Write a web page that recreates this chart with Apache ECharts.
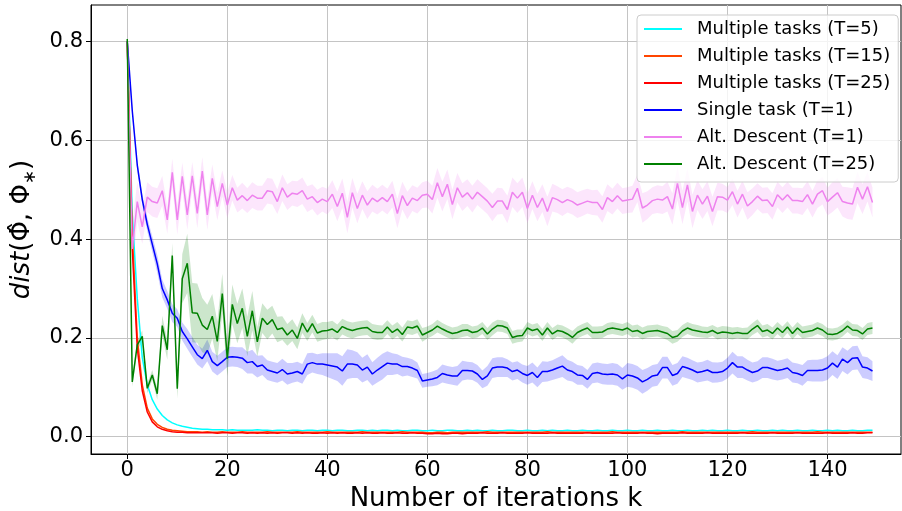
<!DOCTYPE html>
<html>
<head>
<meta charset="utf-8">
<title>dist vs iterations</title>
<script src="https://cdn.jsdelivr.net/npm/echarts@6/dist/echarts.min.js"></script>
<style>
  html, body { margin: 0; padding: 0; background: #fff; }
  #chart { width: 902px; height: 511px; }
</style>
</head>
<body>
<div id="chart"></div>
<script>
// 刻度
const xTicks = [0, 20, 40, 60, 80, 100, 120, 140];
const yTicks = [0, 0.2, 0.4, 0.6, 0.8];

// 迭代次数 k = 0..149
const iterations = Array.from({ length: 150 }, (_, i) => i);

// Multiple tasks (T=5)
const multiT5 = [
  0.80, 0.45, 0.28, 0.16, 0.105, 0.075, 0.056, 0.043, 0.034, 0.028,
  0.024, 0.021, 0.019, 0.017, 0.016, 0.015, 0.015, 0.014, 0.014, 0.014,
  0.013, 0.014, 0.013, 0.013, 0.013, 0.013, 0.014, 0.013, 0.013, 0.012,
  0.013, 0.013, 0.012, 0.013, 0.013, 0.012, 0.013, 0.013, 0.012, 0.013,
  0.013, 0.012, 0.013, 0.013, 0.012, 0.012, 0.013, 0.013, 0.012, 0.013,
  0.012, 0.013, 0.013, 0.012, 0.013, 0.012, 0.012, 0.013, 0.013, 0.012,
  0.012, 0.013, 0.012, 0.012, 0.013, 0.013, 0.012, 0.012, 0.013, 0.012,
  0.013, 0.012, 0.012, 0.013, 0.012, 0.012, 0.013, 0.013, 0.012, 0.012,
  0.013, 0.012, 0.012, 0.013, 0.012, 0.013, 0.012, 0.012, 0.013, 0.012,
  0.012, 0.013, 0.012, 0.012, 0.013, 0.012, 0.012, 0.013, 0.012, 0.012,
  0.013, 0.012, 0.012, 0.013, 0.012, 0.012, 0.013, 0.012, 0.012, 0.013,
  0.012, 0.012, 0.013, 0.012, 0.012, 0.013, 0.012, 0.013, 0.012, 0.012,
  0.013, 0.012, 0.012, 0.013, 0.012, 0.012, 0.013, 0.012, 0.012, 0.013,
  0.012, 0.013, 0.012, 0.012, 0.013, 0.012, 0.012, 0.013, 0.012, 0.012,
  0.013, 0.012, 0.013, 0.012, 0.012, 0.013, 0.012, 0.012, 0.013, 0.013
];

// Multiple tasks (T=15)
const multiT15 = [
  0.80, 0.41, 0.20, 0.105, 0.058, 0.036, 0.025, 0.019, 0.015, 0.013,
  0.012, 0.011, 0.010, 0.010, 0.010, 0.009, 0.010, 0.009, 0.009, 0.010,
  0.009, 0.009, 0.009, 0.010, 0.009, 0.009, 0.009, 0.009, 0.010, 0.009,
  0.009, 0.009, 0.009, 0.009, 0.010, 0.009, 0.009, 0.009, 0.009, 0.009,
  0.010, 0.009, 0.009, 0.009, 0.009, 0.009, 0.009, 0.010, 0.009, 0.009,
  0.009, 0.009, 0.009, 0.009, 0.009, 0.010, 0.009, 0.009, 0.009, 0.009,
  0.008, 0.008, 0.009, 0.009, 0.008, 0.009, 0.009, 0.009, 0.009, 0.009,
  0.009, 0.009, 0.010, 0.009, 0.009, 0.009, 0.009, 0.009, 0.009, 0.009,
  0.009, 0.009, 0.009, 0.009, 0.010, 0.009, 0.009, 0.009, 0.009, 0.009,
  0.009, 0.009, 0.009, 0.009, 0.009, 0.009, 0.009, 0.010, 0.009, 0.009,
  0.009, 0.009, 0.009, 0.009, 0.009, 0.009, 0.009, 0.009, 0.009, 0.009,
  0.009, 0.010, 0.009, 0.009, 0.009, 0.009, 0.009, 0.009, 0.009, 0.009,
  0.009, 0.009, 0.009, 0.009, 0.009, 0.010, 0.009, 0.009, 0.009, 0.009,
  0.009, 0.009, 0.009, 0.009, 0.009, 0.009, 0.009, 0.009, 0.010, 0.009,
  0.009, 0.009, 0.009, 0.009, 0.009, 0.009, 0.009, 0.009, 0.009, 0.009
];

// Multiple tasks (T=25)
const multiT25 = [
  0.80, 0.38, 0.18, 0.093, 0.050, 0.030, 0.020, 0.015, 0.012, 0.010,
  0.009, 0.009, 0.008, 0.008, 0.008, 0.008, 0.008, 0.008, 0.007, 0.008,
  0.008, 0.007, 0.008, 0.008, 0.007, 0.008, 0.007, 0.008, 0.007, 0.008,
  0.007, 0.008, 0.008, 0.007, 0.008, 0.007, 0.008, 0.007, 0.007, 0.008,
  0.007, 0.008, 0.007, 0.008, 0.007, 0.007, 0.008, 0.007, 0.008, 0.007,
  0.007, 0.008, 0.007, 0.007, 0.008, 0.007, 0.007, 0.008, 0.007, 0.007,
  0.006, 0.006, 0.007, 0.006, 0.006, 0.007, 0.007, 0.006, 0.007, 0.007,
  0.007, 0.008, 0.007, 0.007, 0.007, 0.008, 0.007, 0.007, 0.007, 0.007,
  0.008, 0.007, 0.007, 0.007, 0.007, 0.008, 0.007, 0.007, 0.007, 0.007,
  0.007, 0.007, 0.008, 0.007, 0.007, 0.007, 0.007, 0.007, 0.008, 0.007,
  0.007, 0.007, 0.007, 0.008, 0.007, 0.007, 0.006, 0.007, 0.007, 0.007,
  0.007, 0.008, 0.007, 0.007, 0.007, 0.007, 0.008, 0.007, 0.007, 0.007,
  0.007, 0.007, 0.007, 0.008, 0.007, 0.007, 0.007, 0.007, 0.007, 0.008,
  0.007, 0.007, 0.007, 0.007, 0.008, 0.007, 0.007, 0.007, 0.007, 0.007,
  0.008, 0.007, 0.007, 0.007, 0.007, 0.008, 0.007, 0.007, 0.008, 0.008
];

// Single task (T=1)
const singleT1 = [
  0.80, 0.66, 0.55, 0.48, 0.43, 0.39, 0.35, 0.30, 0.277, 0.25,
  0.24, 0.213, 0.198, 0.182, 0.166, 0.158, 0.175, 0.152, 0.144, 0.152,
  0.161, 0.162, 0.161, 0.159, 0.150, 0.152, 0.142, 0.145, 0.135, 0.132,
  0.129, 0.136, 0.127, 0.129, 0.132, 0.127, 0.147, 0.150, 0.147, 0.147,
  0.145, 0.143, 0.141, 0.133, 0.147, 0.147, 0.145, 0.135, 0.141, 0.127,
  0.135, 0.142, 0.149, 0.147, 0.147, 0.142, 0.142, 0.139, 0.134, 0.113,
  0.115, 0.117, 0.120, 0.128, 0.125, 0.123, 0.123, 0.134, 0.134, 0.133,
  0.127, 0.116, 0.123, 0.139, 0.141, 0.141, 0.139, 0.132, 0.135, 0.128,
  0.124, 0.130, 0.120, 0.132, 0.132, 0.135, 0.139, 0.143, 0.135, 0.132,
  0.125, 0.124, 0.116, 0.128, 0.130, 0.127, 0.126, 0.127, 0.125, 0.117,
  0.125, 0.123, 0.119, 0.111, 0.116, 0.123, 0.125, 0.140, 0.140, 0.124,
  0.128, 0.142, 0.139, 0.135, 0.130, 0.132, 0.135, 0.130, 0.130, 0.132,
  0.139, 0.150, 0.141, 0.141, 0.135, 0.130, 0.133, 0.140, 0.140, 0.137,
  0.134, 0.136, 0.139, 0.130, 0.128, 0.124, 0.134, 0.134, 0.134, 0.135,
  0.139, 0.149, 0.141, 0.157, 0.150, 0.159, 0.160, 0.141, 0.139, 0.133
];
const singleT1Sd = [
  0.005, 0.008, 0.010, 0.012, 0.014, 0.016, 0.018, 0.018, 0.018, 0.018,
  0.018, 0.018, 0.020, 0.020, 0.020, 0.020, 0.022, 0.020, 0.020, 0.020,
  0.020, 0.020, 0.020, 0.022, 0.022, 0.024, 0.022, 0.020, 0.020, 0.020,
  0.020, 0.022, 0.022, 0.020, 0.020, 0.020, 0.022, 0.020, 0.020, 0.022,
  0.024, 0.026, 0.028, 0.030, 0.030, 0.028, 0.026, 0.025, 0.026, 0.024,
  0.025, 0.026, 0.024, 0.022, 0.020, 0.020, 0.018, 0.018, 0.016, 0.014,
  0.014, 0.015, 0.016, 0.018, 0.018, 0.018, 0.020, 0.020, 0.018, 0.018,
  0.018, 0.018, 0.020, 0.020, 0.020, 0.020, 0.018, 0.018, 0.018, 0.018,
  0.019, 0.020, 0.020, 0.021, 0.020, 0.020, 0.021, 0.022, 0.021, 0.020,
  0.020, 0.019, 0.019, 0.020, 0.020, 0.021, 0.021, 0.022, 0.022, 0.022,
  0.024, 0.024, 0.024, 0.024, 0.023, 0.022, 0.022, 0.022, 0.022, 0.021,
  0.021, 0.021, 0.021, 0.020, 0.020, 0.020, 0.021, 0.021, 0.020, 0.020,
  0.021, 0.022, 0.022, 0.022, 0.021, 0.020, 0.020, 0.021, 0.021, 0.021,
  0.020, 0.020, 0.020, 0.020, 0.020, 0.021, 0.021, 0.022, 0.022, 0.023,
  0.024, 0.024, 0.024, 0.024, 0.024, 0.024, 0.024, 0.022, 0.022, 0.020
];

// Alt. Descent (T=1)
const altT1 = [
  0.80, 0.38, 0.476, 0.425, 0.485, 0.476, 0.473, 0.498, 0.439, 0.535,
  0.439, 0.527, 0.449, 0.528, 0.452, 0.538, 0.449, 0.523, 0.466, 0.513,
  0.469, 0.504, 0.479, 0.488, 0.478, 0.489, 0.483, 0.483, 0.498, 0.496,
  0.476, 0.504, 0.485, 0.493, 0.491, 0.498, 0.481, 0.486, 0.474, 0.481,
  0.476, 0.491, 0.466, 0.493, 0.444, 0.494, 0.462, 0.489, 0.469, 0.483,
  0.476, 0.484, 0.476, 0.491, 0.452, 0.488, 0.468, 0.483, 0.478, 0.489,
  0.491, 0.480, 0.514, 0.486, 0.511, 0.470, 0.504, 0.485, 0.494, 0.481,
  0.495, 0.486, 0.477, 0.464, 0.477, 0.477, 0.460, 0.495, 0.483, 0.495,
  0.462, 0.489, 0.464, 0.483, 0.456, 0.484, 0.480, 0.474, 0.480, 0.476,
  0.469, 0.473, 0.477, 0.474, 0.474, 0.460, 0.484, 0.476, 0.488, 0.477,
  0.479, 0.481, 0.503, 0.463, 0.469, 0.478, 0.481, 0.479, 0.486, 0.461,
  0.513, 0.464, 0.510, 0.456, 0.489, 0.471, 0.487, 0.456, 0.486, 0.485,
  0.479, 0.496, 0.471, 0.491, 0.467, 0.476, 0.487, 0.478, 0.479, 0.466,
  0.490, 0.479, 0.490, 0.478, 0.478, 0.476, 0.490, 0.471, 0.491, 0.498,
  0.476, 0.485, 0.494, 0.476, 0.473, 0.471, 0.505, 0.481, 0.506, 0.474
];
const altT1Sd = [
  0.030, 0.050, 0.040, 0.035, 0.030, 0.030, 0.030, 0.030, 0.028, 0.028,
  0.030, 0.028, 0.030, 0.028, 0.030, 0.028, 0.030, 0.028, 0.028, 0.026,
  0.026, 0.026, 0.025, 0.026, 0.025, 0.026, 0.025, 0.025, 0.026, 0.026,
  0.025, 0.027, 0.026, 0.025, 0.026, 0.027, 0.026, 0.025, 0.026, 0.025,
  0.026, 0.028, 0.030, 0.030, 0.032, 0.030, 0.030, 0.028, 0.028, 0.027,
  0.026, 0.026, 0.026, 0.027, 0.030, 0.028, 0.028, 0.026, 0.026, 0.026,
  0.027, 0.028, 0.030, 0.030, 0.030, 0.030, 0.030, 0.028, 0.027, 0.027,
  0.026, 0.026, 0.026, 0.028, 0.027, 0.026, 0.028, 0.030, 0.030, 0.030,
  0.030, 0.028, 0.028, 0.028, 0.030, 0.028, 0.027, 0.027, 0.026, 0.026,
  0.026, 0.026, 0.025, 0.025, 0.026, 0.027, 0.027, 0.026, 0.026, 0.026,
  0.026, 0.027, 0.028, 0.030, 0.028, 0.027, 0.028, 0.028, 0.030, 0.032,
  0.034, 0.034, 0.034, 0.034, 0.030, 0.030, 0.030, 0.030, 0.028, 0.027,
  0.026, 0.027, 0.027, 0.027, 0.028, 0.027, 0.026, 0.026, 0.026, 0.027,
  0.026, 0.026, 0.026, 0.026, 0.026, 0.027, 0.027, 0.027, 0.028, 0.028,
  0.028, 0.030, 0.030, 0.030, 0.032, 0.032, 0.032, 0.030, 0.030, 0.030
];

// Alt. Descent (T=25)
const altT25 = [
  0.805, 0.111, 0.186, 0.203, 0.098, 0.125, 0.087, 0.225, 0.176, 0.367,
  0.097, 0.320, 0.351, 0.251, 0.250, 0.226, 0.217, 0.244, 0.193, 0.290,
  0.158, 0.268, 0.229, 0.260, 0.203, 0.255, 0.192, 0.240, 0.227, 0.237,
  0.217, 0.220, 0.206, 0.216, 0.199, 0.230, 0.212, 0.229, 0.210, 0.214,
  0.215, 0.218, 0.211, 0.223, 0.218, 0.215, 0.218, 0.220, 0.221, 0.213,
  0.211, 0.211, 0.222, 0.211, 0.218, 0.207, 0.222, 0.220, 0.224, 0.206,
  0.211, 0.216, 0.224, 0.218, 0.213, 0.209, 0.211, 0.215, 0.216, 0.211,
  0.213, 0.220, 0.208, 0.218, 0.225, 0.224, 0.220, 0.201, 0.204, 0.205,
  0.220, 0.215, 0.218, 0.206, 0.220, 0.208, 0.215, 0.213, 0.208, 0.201,
  0.211, 0.216, 0.220, 0.211, 0.211, 0.212, 0.218, 0.220, 0.218, 0.216,
  0.220, 0.213, 0.215, 0.209, 0.213, 0.214, 0.215, 0.212, 0.209, 0.201,
  0.204, 0.214, 0.220, 0.216, 0.214, 0.212, 0.211, 0.215, 0.209, 0.212,
  0.211, 0.209, 0.211, 0.209, 0.209, 0.218, 0.225, 0.213, 0.216, 0.209,
  0.220, 0.211, 0.222, 0.209, 0.220, 0.211, 0.213, 0.215, 0.220, 0.216,
  0.208, 0.207, 0.209, 0.215, 0.224, 0.216, 0.215, 0.208, 0.218, 0.220
];
const altT25Sd = [
  0.010, 0.010, 0.010, 0.012, 0.010, 0.010, 0.012, 0.020, 0.020, 0.025,
  0.020, 0.050, 0.060, 0.060, 0.060, 0.055, 0.050, 0.045, 0.040, 0.040,
  0.035, 0.040, 0.040, 0.040, 0.040, 0.040, 0.030, 0.030, 0.030, 0.028,
  0.026, 0.024, 0.022, 0.022, 0.022, 0.020, 0.018, 0.018, 0.018, 0.018,
  0.017, 0.017, 0.016, 0.016, 0.016, 0.016, 0.015, 0.015, 0.015, 0.015,
  0.015, 0.014, 0.014, 0.014, 0.014, 0.014, 0.014, 0.014, 0.014, 0.014,
  0.012, 0.012, 0.013, 0.012, 0.012, 0.012, 0.012, 0.013, 0.012, 0.012,
  0.012, 0.012, 0.012, 0.013, 0.012, 0.012, 0.012, 0.013, 0.013, 0.012,
  0.012, 0.012, 0.012, 0.012, 0.012, 0.012, 0.012, 0.012, 0.012, 0.013,
  0.012, 0.012, 0.012, 0.012, 0.012, 0.012, 0.012, 0.012, 0.012, 0.012,
  0.012, 0.012, 0.012, 0.012, 0.012, 0.012, 0.012, 0.012, 0.013, 0.013,
  0.012, 0.012, 0.012, 0.012, 0.012, 0.011, 0.011, 0.011, 0.012, 0.012,
  0.012, 0.012, 0.011, 0.011, 0.012, 0.012, 0.013, 0.012, 0.012, 0.012,
  0.012, 0.012, 0.012, 0.012, 0.012, 0.012, 0.012, 0.012, 0.012, 0.012,
  0.012, 0.012, 0.012, 0.012, 0.012, 0.012, 0.012, 0.012, 0.012, 0.012
];

const FONT = 'DejaVu Sans';

// 折线
function lineSeries(name, values, color) {
  return {
    name: name,
    type: 'line',
    data: values.map((v, i) => [iterations[i], v]),
    showSymbol: false,
    symbol: 'none',
    z: 3,
    lineStyle: { color: color, width: 1.5 },
    itemStyle: { color: color },
    emphasis: { disabled: true },
  };
}

// 阴影带 (mean ± sd)
function bandSeries(name, values, sd, fill) {
  const rows = values.map((v, i) => [iterations[i], v - sd[i], v + sd[i]]);
  return {
    name: name + ' band',
    type: 'custom',
    data: rows,
    z: 1,
    silent: true,
    encode: { x: 0, y: [1, 2] },
    renderItem: function (params, api) {
      if (params.dataIndexInside !== 0) return null;
      const upper = [];
      const lower = [];
      for (let i = 0; i < rows.length; i++) {
        upper.push(api.coord([api.value(0, i), api.value(2, i)]));
        lower.push(api.coord([api.value(0, i), api.value(1, i)]));
      }
      return {
        type: 'polygon',
        shape: { points: upper.concat(lower.reverse()) },
        style: { fill: fill, stroke: null },
      };
    },
  };
}

const names = [
  'Multiple tasks (T=5)',
  'Multiple tasks (T=15)',
  'Multiple tasks (T=25)',
  'Single task (T=1)',
  'Alt. Descent (T=1)',
  'Alt. Descent (T=25)',
];

const chart = echarts.init(document.getElementById('chart'), null, { renderer: 'canvas' });

const option = {
  animation: false,
  backgroundColor: '#fff',
  textStyle: { fontFamily: FONT },
  grid: {
    left: 91, right: 1, top: 5, bottom: 57,
    outerBoundsMode: 'none',
    containLabel: false,
    show: true, borderColor: '#000', borderWidth: 1, backgroundColor: 'transparent',
  },
  legend: {
    data: names,
    orient: 'vertical',
    left: 637,
    top: 15,
    icon: 'rect',
    itemWidth: 38,
    itemHeight: 2,
    itemGap: 7,
    padding: [4, 8, 8, 7],
    backgroundColor: 'rgba(255,255,255,0.8)',
    borderColor: '#cccccc',
    borderWidth: 1,
    borderRadius: 4,
    textStyle: { fontFamily: FONT, fontSize: 18, color: '#000', lineHeight: 20, padding: [0, 0, 0, 10] },
  },
  xAxis: {
    type: 'value',
    min: -7.25,
    max: 154.7,
    name: 'Number of iterations k',
    nameLocation: 'middle',
    nameGap: 28,
    nameTextStyle: { fontFamily: FONT, fontSize: 26, color: '#000' },
    axisLine: { show: true, onZero: false, lineStyle: { color: '#000', width: 1 } },
    axisTick: { show: true, length: 5, customValues: xTicks, lineStyle: { color: '#000' } },
    axisLabel: { customValues: xTicks, fontFamily: FONT, fontSize: 21, color: '#000', margin: 6 },
    splitLine: { show: true, lineStyle: { color: '#c4c4c4', width: 1 } },
  },
  yAxis: {
    type: 'value',
    min: -0.035,
    max: 0.874,
    name: '{it|dist}(Φ\u0302, Φ{sub|∗})',
    nameLocation: 'middle',
    nameGap: 46,
    nameTextStyle: {
      fontFamily: FONT, fontSize: 26, color: '#000', lineHeight: 32,
      rich: {
        it: { fontFamily: FONT, fontStyle: 'italic', fontSize: 26, color: '#000', lineHeight: 32 },
        sub: { fontFamily: FONT, fontSize: 17, color: '#000', lineHeight: 32, verticalAlign: 'bottom' },
      },
    },
    axisLine: { show: true, onZero: false, lineStyle: { color: '#000', width: 1 } },
    axisTick: { show: true, length: 5, customValues: yTicks, lineStyle: { color: '#000' } },
    axisLabel: {
      customValues: yTicks, fontFamily: FONT, fontSize: 21, color: '#000', margin: 8,
      formatter: (v) => v.toFixed(1),
    },
    splitLine: { show: true, lineStyle: { color: '#c4c4c4', width: 1 } },
  },
  series: [
    bandSeries(names[3], singleT1, singleT1Sd, 'rgba(0,0,255,0.2)'),
    bandSeries(names[4], altT1, altT1Sd, 'rgba(238,130,238,0.2)'),
    bandSeries(names[5], altT25, altT25Sd, 'rgba(0,128,0,0.2)'),
    lineSeries(names[0], multiT5, '#00ffff'),
    lineSeries(names[1], multiT15, '#ff4500'),
    lineSeries(names[2], multiT25, '#ff0000'),
    lineSeries(names[3], singleT1, '#0000ff'),
    lineSeries(names[4], altT1, '#ee82ee'),
    lineSeries(names[5], altT25, '#008000'),
  ],
};

chart.setOption(option);
</script>
</body>
</html>
